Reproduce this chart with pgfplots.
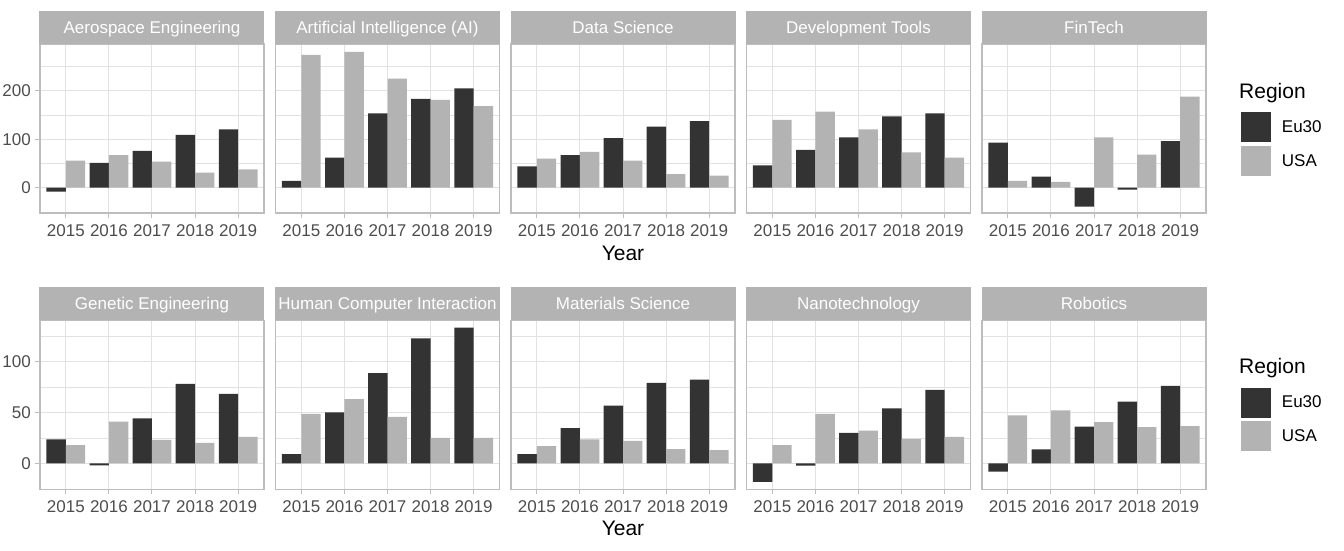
\documentclass[border=0pt]{standalone}
\usepackage{fontspec}
\setmainfont{Liberation Sans}
\usepackage{pgfplots}
\usepackage{pgfplotstable}
\pgfplotsset{compat=1.18}

\definecolor{eu}{HTML}{333333}
\definecolor{us}{HTML}{B3B3B3}
\definecolor{strip}{HTML}{B3B3B3}
\definecolor{bord}{HTML}{BDBDBD}
\definecolor{gridc}{HTML}{E2E2E2}
\definecolor{txt}{HTML}{4D4D4D}

% one table per facet: x = year index (0 = 2015)
\pgfplotstableread{
x eu us
0 -8 56
1 51 67
2 76 54
3 109 31
4 120 38
}\aero
\pgfplotstableread{
x eu us
0 14 274
1 62 280
2 153 225
3 183 181
4 205 168
}\ai
\pgfplotstableread{
x eu us
0 44 60
1 67 74
2 102 56
3 126 28
4 137 25
}\datasci
\pgfplotstableread{
x eu us
0 46 140
1 78 157
2 104 120
3 147 73
4 153 62
}\devtools
\pgfplotstableread{
x eu us
0 93 14
1 23 12
2 -39 104
3 -4 68
4 96 188
}\fintech
\pgfplotstableread{
x eu us
0 23.5 18
1 -2 41
2 44 23
3 78 20
4 68 26
}\genetic
\pgfplotstableread{
x eu us
0 9 48.5
1 50 63
2 88.5 45.5
3 122.5 25
4 133 25
}\hci
\pgfplotstableread{
x eu us
0 9 17
1 34.5 23.5
2 56.5 22
3 79 14
4 82 13
}\materials
\pgfplotstableread{
x eu us
0 -18 18
1 -2.3 48.5
2 30 32
3 54 24
4 72 26
}\nano
\pgfplotstableread{
x eu us
0 -8 47
1 13.7 52
2 36 40.5
3 60.5 35.5
4 76 36.5
}\robotics

\pgfplotsset{
  panel/.style={
    scale only axis, width=224pt, height=169pt, anchor=south west,
    xmin=-0.6, xmax=4.6, xtick={0,...,4},
    xticklabels={2015,2016,2017,2018,2019},
    xmajorgrids, ymajorgrids, yminorgrids,
    major grid style={gridc, line width=1pt},
    minor grid style={gridc, line width=0.6pt},
    axis line style={bord, line width=1.1pt},
    tick pos=left, tick align=outside, major tick length=5pt,
    minor tick length=0pt, minor tick style={draw=none},
    tick style={bord, line width=1pt},
    ticklabel style={font=\fontsize{17}{20}\selectfont, text=txt, inner sep=0pt},
    xticklabel style={yshift=-6pt},
    yticklabel style={xshift=-4pt},
    /pgf/number format/assume math mode=true,
    every axis title shift=0pt,
    title style={at={(rel axis cs:0.5,1)}, anchor=south, fill=strip, text=white,
      minimum width=225pt, minimum height=33pt, inner sep=0pt, yshift=0pt,
      text height=12.2pt, text depth=0pt, font=\fontsize{17}{20}\selectfont},
    legend cell align=left,
  },
  inner/.style={yticklabels={}, ytick style={draw=none}},
  toprow/.style={ymin=-52.2, ymax=296.3, ytick={0,100,200}, minor ytick={-50,50,150,250}},
  botrow/.style={ymin=-25.4, ymax=140.2, ytick={0,50,100}, minor ytick={-25,25,75,125}},
  yearlabel/.style={xlabel={Year}, xlabel style={at={(axis description cs:0.5,0)},
      anchor=base, inner sep=0pt, font=\fontsize{21}{24}\selectfont, text=black}},
  leg/.style={legend style={at={(axis description cs:1.155,#1)}, anchor=north west,
      draw=none, fill=none, inner sep=0pt, row sep=3.4pt, column sep=11pt,
      nodes={inner sep=0pt, font=\fontsize{17}{20}\selectfont, text=black}}},
  eubar/.style={ybar, bar width=0.45, bar shift=-0.225, fill=eu, draw=none,
      legend image code/.code={\fill[eu] (0pt,-15pt) rectangle (30pt,15pt);}},
  usbar/.style={ybar, bar width=0.45, bar shift=0.225, fill=us, draw=none,
      legend image code/.code={\fill[us] (0pt,-15pt) rectangle (30pt,15pt);}},
}

\begin{document}
\begin{tikzpicture}
\useasboundingbox (0pt,0pt) rectangle (1344pt,-551pt);

% ---- top row ----
\begin{axis}[panel, toprow, at={(40pt,-213pt)}, title={Aerospace Engineering}]
  \addplot[eubar] table[x=x, y=eu] {\aero};
  \addplot[usbar] table[x=x, y=us] {\aero};
\end{axis}
\begin{axis}[panel, toprow, inner, at={(275.5pt,-213pt)}, title={Artificial Intelligence (AI)}]
  \addplot[eubar] table[x=x, y=eu] {\ai};
  \addplot[usbar] table[x=x, y=us] {\ai};
\end{axis}
\begin{axis}[panel, toprow, inner, yearlabel, xlabel style={yshift=-47pt},
    at={(511pt,-213pt)}, title={Data Science}]
  \addplot[eubar] table[x=x, y=eu] {\datasci};
  \addplot[usbar] table[x=x, y=us] {\datasci};
\end{axis}
\begin{axis}[panel, toprow, inner, at={(746.5pt,-213pt)}, title={Development Tools}]
  \addplot[eubar] table[x=x, y=eu] {\devtools};
  \addplot[usbar] table[x=x, y=us] {\devtools};
\end{axis}
\begin{axis}[panel, toprow, inner, leg=0.596, at={(982pt,-213pt)}, title={FinTech}]
  \addplot[eubar] table[x=x, y=eu] {\fintech};
  \addlegendentry{Eu30}
  \addplot[usbar] table[x=x, y=us] {\fintech};
  \addlegendentry{USA}
\end{axis}
\node[anchor=base west, inner sep=0pt, font=\fontsize{21}{24}\selectfont] at (1239pt,-98pt) {Region};

% ---- bottom row ----
\begin{axis}[panel, botrow, at={(40pt,-489.3pt)}, title={Genetic Engineering}]
  \addplot[eubar] table[x=x, y=eu] {\genetic};
  \addplot[usbar] table[x=x, y=us] {\genetic};
\end{axis}
\begin{axis}[panel, botrow, inner, at={(275.5pt,-489.3pt)}, title={Human Computer Interaction}]
  \addplot[eubar] table[x=x, y=eu] {\hci};
  \addplot[usbar] table[x=x, y=us] {\hci};
\end{axis}
\begin{axis}[panel, botrow, inner, yearlabel, xlabel style={yshift=-46.5pt},
    at={(511pt,-489.3pt)}, title={Materials Science}]
  \addplot[eubar] table[x=x, y=eu] {\materials};
  \addplot[usbar] table[x=x, y=us] {\materials};
\end{axis}
\begin{axis}[panel, botrow, inner, at={(746.5pt,-489.3pt)}, title={Nanotechnology}]
  \addplot[eubar] table[x=x, y=eu] {\nano};
  \addplot[usbar] table[x=x, y=us] {\nano};
\end{axis}
\begin{axis}[panel, botrow, inner, leg=0.6025, at={(982pt,-489.3pt)}, title={Robotics}]
  \addplot[eubar] table[x=x, y=eu] {\robotics};
  \addlegendentry{Eu30}
  \addplot[usbar] table[x=x, y=us] {\robotics};
  \addlegendentry{USA}
\end{axis}
\node[anchor=base west, inner sep=0pt, font=\fontsize{21}{24}\selectfont] at (1239pt,-373pt) {Region};
\end{tikzpicture}
\end{document}
